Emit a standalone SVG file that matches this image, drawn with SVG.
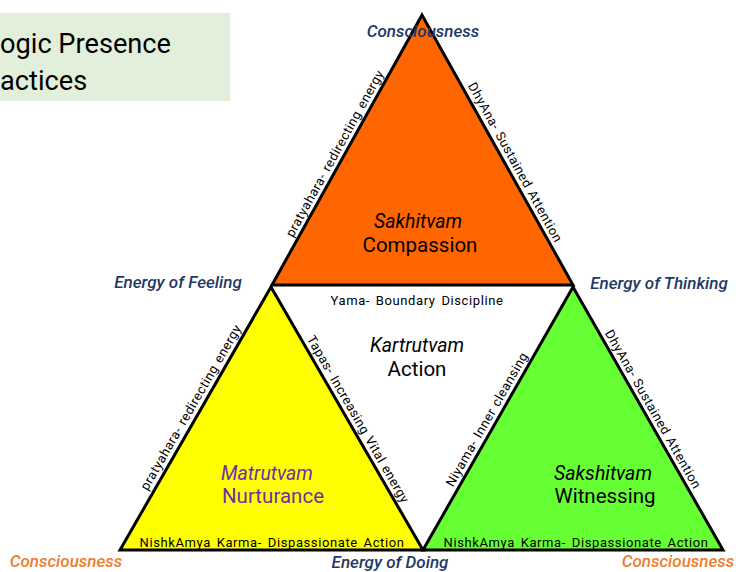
<svg xmlns="http://www.w3.org/2000/svg" width="736" height="572" viewBox="0 0 736 572">
<style>
.tri{stroke:#000;stroke-width:3;stroke-linejoin:miter}
.edge{font-family:Roboto,"Liberation Sans",sans-serif;font-size:13px;letter-spacing:0.5px;word-spacing:1px;fill:#000;text-anchor:middle}
.base{font-family:Roboto,"Liberation Sans",sans-serif;font-size:13px;letter-spacing:0.6px;word-spacing:2px;fill:#000;text-anchor:middle}
.corner{font-family:Roboto,"Liberation Sans",sans-serif;font-size:17px;font-weight:500;font-style:italic;text-anchor:middle}
.blue{fill:#1f3864}
.orange{fill:#ed7d31}
.name{font-family:Roboto,"Liberation Sans",sans-serif;font-size:19.5px;font-style:italic;text-anchor:middle}
.quality{font-family:Roboto,"Liberation Sans",sans-serif;font-size:20.5px;text-anchor:middle}
.title{font-family:Roboto,"Liberation Sans",sans-serif;font-size:27.2px;fill:#000}
</style>
<rect width="736" height="572" fill="#fff"/>
<g id="title">
<rect x="0" y="13" width="230" height="88" fill="#e2efda"/>
<text class="title" x="0" y="53">ogic Presence</text>
<text class="title" x="0" y="90">actices</text>
</g>
<g id="sakhitvam">
<polygon class="tri" points="422,15 272,285 573,285" fill="#ff6600"/>
<text class="name" x="418" y="228">Sakhitvam</text>
<text class="quality" x="420" y="252">Compassion</text>
</g>
<g id="kartrutvam">
<text class="name" x="417" y="352">Kartrutvam</text>
<text class="quality" x="417" y="376">Action</text>
</g>
<g id="matrutvam">
<polygon class="tri" points="271,287 120,550 423,550" fill="#ffff00"/>
<text class="name" x="267" y="480" fill="#7030a0">Matrutvam</text>
<text class="quality" x="273" y="503" fill="#7030a0">Nurturance</text>
</g>
<g id="sakshitvam">
<polygon class="tri" points="573,287 423,550 723,550" fill="#66ff33"/>
<text class="name" x="603" y="480">Sakshitvam</text>
<text class="quality" x="605" y="503">Witnessing</text>
</g>
<g id="connectors">
<text class="edge" transform="translate(343,158) rotate(-61)" y="-5">pratyahara- redirecting energy</text>
<text class="edge" transform="translate(507,167) rotate(61)" y="-5">DhyAna- Sustained Attention</text>
<text class="base" x="417" y="305">Yama- Boundary Discipline</text>
<text class="edge" transform="translate(199,412) rotate(-60)" y="-5">pratyahara- redirecting energy</text>
<text class="edge" transform="translate(350,424) rotate(60)" y="-5">Tapas- Increasing Vital energy</text>
<text class="edge" transform="translate(495,424) rotate(-60.3)" y="-5">Niyama- Inner cleansing</text>
<text class="edge" transform="translate(645,414) rotate(60.3)" y="-5">DhyAna- Sustained Attention</text>
<text class="base" x="272" y="547">NishkAmya Karma- Dispassionate Action</text>
<text class="base" x="576" y="547">NishkAmya Karma- Dispassionate Action</text>
</g>
<g id="corners">
<text class="corner blue" x="423" y="37">Consciousness</text>
<text class="corner blue" x="178" y="288">Energy of Feeling</text>
<text class="corner blue" x="659" y="289">Energy of Thinking</text>
<text class="corner blue" x="390" y="568">Energy of Doing</text>
<text class="corner orange" x="66" y="567">Consciousness</text>
<text class="corner orange" x="678" y="567">Consciousness</text>
</g>
</svg>
